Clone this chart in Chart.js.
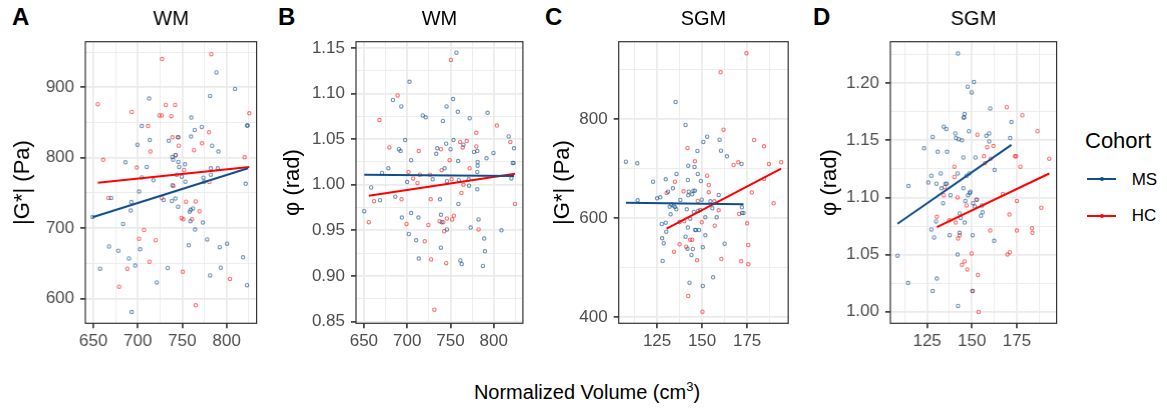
<!DOCTYPE html>
<html>
<head>
<meta charset="utf-8">
<script src="https://cdn.jsdelivr.net/npm/chart.js@4.4.0/dist/chart.umd.min.js"></script>
<style>
body { margin:0; width:1167px; height:410px; background:#fff; position:relative; overflow:hidden;
  font-family:"Liberation Sans", Arial, sans-serif; }
.panel { position:absolute; top:0; }
.txt { position:absolute; line-height:1; white-space:nowrap; color:#000; }
.tag { font-weight:bold; font-size:24px; top:5px; }
.key { position:absolute; height:2px; width:29px; left:1087px; }
.dot { position:absolute; width:4px; height:4px; border-radius:2px; left:1100px; }
</style>
</head>
<body>
<div class="txt tag" style="left:12px">A</div>
<div class="txt tag" style="left:278px">B</div>
<div class="txt tag" style="left:545px">C</div>
<div class="txt tag" style="left:813px">D</div>

<div class="panel" id="pA"><canvas></canvas></div>
<div class="panel" id="pB"><canvas></canvas></div>
<div class="panel" id="pC"><canvas></canvas></div>
<div class="panel" id="pD"><canvas></canvas></div>

<div class="txt" style="left:437px;width:300px;text-align:center;top:382px;font-size:20px">Normalized Volume (cm<sup style="font-size:13px;line-height:0">3</sup>)</div>

<div class="txt" style="left:1085px;top:129.5px;font-size:22px">Cohort</div>
<div class="key" style="top:178.3px;background:#104E8B"></div>
<div class="dot" style="top:177.3px;background:#104E8B"></div>
<div class="txt" style="left:1131.7px;top:171px;font-size:17px">MS</div>
<div class="key" style="top:214.5px;background:#FF0000"></div>
<div class="dot" style="top:213.5px;background:#FF0000"></div>
<div class="txt" style="left:1131.7px;top:207.2px;font-size:17px">HC</div>

<script>
// panel A: |G*| vs WM volume
var wmStiffMS = [[649,716],[657.5,642.5],[667.6,674],[670,743],[678,668],[683.4,706],[686,793.5],[690,657],
  [692.7,737],[692,725],[693,581],[697,647],[699.5,818.6],[701.4,752],[702.6,670],[704.4,845],[704.4,772],
  [710,787],[712.7,884],[713.4,825],[717.5,768],[721.3,623],[729,740],[733.6,643.5],[734.8,824],[738.2,738.6],
  [738.9,761],[738.9,801],[739.7,797],[742.3,742],[742.3,803.5],[743.8,776],[745.3,730.6],[745.6,829],
  [745.6,794],[746.4,787],[749.4,773],[753.1,790.7],[753.5,766],[757.3,675.7],[758.4,723.5],[759.1,710],
  [759.5,726],[759.9,830],[760.2,857],[762.1,728],[764,839.4],[764.4,698],[771.9,843.7],[773.1,708],
  [773.8,771.7],[774.6,766],[778,684],[781.3,887.7],[781.3,633],[782.1,785],[782.1,776],[783.6,817],
  [788.4,921],[789.9,785],[790.7,808.7],[792.1,673],[793.3,644],[800.4,678],[809.4,897.6],[818.4,658.6],
  [821.4,763],[822.9,619],[822.9,845.6],[823.7,845.6]];
var wmStiffHC = [[654.9,876],[661,797],[666.9,743],[693.1,865],[698.7,786],[701.4,685],[707,697.4],[688.2,642.5],
  [678.9,617],[711.5,845],[714.1,808.7],[713,652.5],[720.1,683],[727.2,940],[724.2,860],[726.9,860],[731.4,875],
  [737.7,859],[741.9,875],[738.9,829],[744.9,829],[746,817],[742.6,803.5],[740,760],[726.9,743],[752,782.6],
  [749,714.5],[751.2,712.6],[754.2,737.7],[750.5,638],[763.2,810.6],[765.1,738],[761,712.6],[769.3,724],
  [772.2,820.5],[765.1,590.5],[780.1,836],[780.5,765.6],[803.7,628],[782.7,947],[820.2,800.6],[825.5,863]];
var wmStiffFitMS = [[649,715.5],[824,785]];
var wmStiffFitHC = [[655,764.5],[825.5,787]];

// panel B: phase angle vs WM volume
var wmPhaseMS = [[650.4,0.971],[658.4,0.997],[668.7,0.983],[671,1.013],[678.3,1.018],[683.6,1.093],[686.3,0.987],
  [690.5,1.039],[692.4,1.037],[693.2,1.086],[693.9,0.964],[697.7,1.049],[700,1.003],[701.9,0.946],[702.7,1.113],
  [704.6,1.027],[704.6,0.969],[710.4,0.939],[713,0.964],[713.4,0.919],[718,1.076],[721.4,1.074],[729.5,1.006],
  [733.6,1.034],[734.8,1.040],[737.9,0.984],[739,0.967],[739,0.931],[739.8,0.959],[741.3,1.070],[743.2,1.018],
  [745.1,1.045],[745.5,1.086],[745.9,1.004],[745.9,0.951],[750.1,1.039],[753.1,1.094],[753.5,1.049],[756.9,1.145],
  [758.5,1.080],[758.9,1.026],[759.2,0.979],[759.6,1.005],[761.5,0.917],[763,0.913],[765,1.044],[771.1,1.006],
  [771.5,0.999],[772.2,1.073],[773.4,0.953],[777.2,1.036],[781,1.037],[781,1.014],[781,0.995],[781.4,1.021],
  [781.4,1.025],[782.5,0.962],[787.5,0.911],[789,0.941],[789.8,0.927],[791.7,1.029],[792.9,1.079],[799.7,1.035],
  [808.9,0.950],[817.3,1.053],[820.4,1.007],[821.9,1.024],[823,1.024],[823.4,1.040]];
var wmPhaseHC = [[655.7,0.959],[661.8,0.982],[668,1.071],[679.4,1.041],[689,1.098],[693.5,0.984],[699.3,0.957],
  [701.6,1.014],[706.9,1.007],[711.9,1.002],[713.4,1.037],[714.6,1.011],[720.3,0.938],[724.5,0.956],[726.4,1.011],
  [727.2,0.984],[727.6,0.918],[731.4,0.863],[737.5,0.960],[739,1.039],[739.8,1.016],[741.7,0.959],[742.8,0.949],
  [745.1,0.914],[745.9,0.963],[749,1.027],[750.5,1.137],[751.3,1.006],[752,0.962],[753.9,0.966],[761.2,1.047],
  [762.7,0.991],[764.2,1.041],[765,1.000],[768.8,1.048],[772.2,1.018],[779.9,1.057],[779.9,1.042],[782.5,0.951],
  [803.6,1.065],[819.2,1.047],[824.6,0.979]];
var wmPhaseFitMS = [[650.4,1.011],[823.4,1.0097]];
var wmPhaseFitHC = [[655.7,0.988],[824.6,1.012]];

// panel C: |G*| vs SGM volume
var sgmStiffMS = [[107.7,714.5],[114,711.1],[114.2,636.4],[122.8,674.1],[125,640.4],[126.8,642.4],[127.6,588.5],
  [127.8,559.6],[128.1,513.8],[128.7,549.5],[129.8,678.8],[129.8,591.2],[130.1,573.1],[131.1,653.9],[132,623.6],
  [132.5,608.1],[132.9,627.6],[133.8,660.6],[134.2,625.6],[134.9,622.9],[135.3,835],[135.7,618.2],[135.8,689.6],
  [137.5,592.6],[137.9,637],[140.8,788.6],[140.8,562.9],[141.5,618.2],[141.9,538.7],[142.1,581.2],[142.1,677.4],
  [142.3,646.5],[142.3,706.4],[142.6,653.9],[143,470],[143.4,599.3],[144.1,525.9],[144.5,648.5],[144.9,538],
  [145.2,655.9],[145.4,612.8],[145.8,703.7],[146,655.9],[146.1,576.4],[146.7,576.4],[147.4,736],[147.6,689.6],
  [147.8,614.8],[148.3,576.4],[148.9,616.8],[149.3,675.4],[149.8,637.7],[150.4,463.3],[150.4,541.4],[150.7,754.2],
  [151.8,565.7],[151.8,602],[152.8,765],[154.6,634.3],[155.7,620.2],[156.1,480.8],[158.1,602],[159.2,647.1],
  [159.7,758.9],[160.5,736.7],[162.5,548.8],[163.8,725.3],[171.9,709.8],[172.1,622.2],[172.2,610.8],[173,610.8]];
var sgmStiffHC = [[130.3,651.2],[134.4,532.7],[134.9,674.1],[137.5,547.5],[139.7,654.5],[140.1,593.9],[141.2,542.8],
  [141.9,742.1],[142.3,443.1],[143.4,556.9],[144.5,556.9],[146,715.2],[147.2,515.2],[147.6,635],[149.8,591.9],
  [150.2,411.4],[152.8,686.2],[153.7,667.3],[153.7,652.5],[156.8,634.3],[157,585.2],[159.2,616.2],[160.3,895],
  [160.7,517.8],[161.9,779.1],[167.5,707.7],[170.1,713.1],[170.6,608.8],[171.7,513.1],[174.6,933.3],[175,589.9],
  [175.6,546.1],[175.7,507.1],[177.6,651.9],[178.9,758.2],[184.4,745.5],[184.4,679.5],[187.1,709.8],[189.7,630.3],
  [193.9,713.1]];
var sgmStiffFitMS = [[107.7,631.5],[173,628.3]];
var sgmStiffFitHC = [[130.3,579],[193.9,700.5]];

// panel D: phase angle vs SGM volume
var sgmPhaseMS = [[108.5,1.049],[114.6,1.110],[114.4,1.025],[123.3,1.143],[125.7,1.113],[127.4,1.119],[128.1,1.153],
  [128.1,1.018],[127.4,1.072],[128.9,1.065],[130,1.079],[130.2,1.112],[130.4,1.029],[130.9,1.140],[132.6,1.121],
  [133,1.108],[133.9,1.095],[134.3,1.162],[135.2,1.112],[135.7,1.160],[135.9,1.112],[136.1,1.140],[137.6,1.067],
  [138,1.102],[140.7,1.156],[141.1,1.152],[142,1.121],[142,1.050],[142.2,1.005],[142.2,1.226],[142.6,1.151],
  [143.1,1.086],[143.1,1.069],[143.7,1.082],[144.4,1.150],[145.2,1.135],[145.2,1.108],[145.4,1.170],[145.6,1.170],
  [145.9,1.173],[145.9,1.078],[146.3,1.097],[147,1.119],[147.6,1.197],[147.8,1.102],[148.3,1.158],[148.5,1.121],
  [148.7,1.104],[149.1,1.105],[149.8,1.192],[150.2,1.018],[150.4,1.067],[150.6,1.095],[151.1,1.201],[151.5,1.092],
  [152,1.135],[152.8,1.098],[155,1.084],[155.6,1.093],[155.9,1.087],[158,1.154],[159.6,1.156],[159.6,1.149],
  [160.2,1.178],[162.6,1.124],[162.4,1.062],[171.3,1.152],[172,1.166]];
var sgmPhaseHC = [[130.4,1.083],[134.3,1.102],[134.8,1.109],[137.4,1.080],[140.2,1.127],[140.2,1.118],[140.9,1.078],
  [142,1.100],[142.2,1.064],[143.1,1.067],[144.4,1.041],[145.9,1.044],[147,1.093],[147.4,1.037],[149.8,1.051],
  [150.4,1.018],[152.4,1.098],[153,1.155],[153.3,1.032],[153.7,0.9997],[156.7,1.136],[157.2,1.130],[158.5,1.144],
  [160.4,1.134],[160.2,1.071],[161.9,1.145],[167.2,1.103],[169.4,1.179],[169.8,1.050],[171.1,1.052],[170.9,1.085],
  [173.9,1.136],[174.6,1.136],[175,1.097],[175,1.071],[177,1.127],[178.1,1.172],[183.5,1.073],[183.7,1.069],
  [186.5,1.158],[188.7,1.091],[193.1,1.134]];
var sgmPhaseFitMS = [[108.5,1.077],[172,1.146]];
var sgmPhaseFitHC = [[130.4,1.074],[193.1,1.121]];

// tick labels
var wmVolTicks = [650, 700, 750, 800];
var sgmVolTicks = [125, 150, 175];
var wmStiffTicks = [600, 700, 800, 900];
var wmPhaseTicks = [0.85, 0.90, 0.95, 1.00, 1.05, 1.10, 1.15];
var sgmStiffTicks = [400, 600, 800];
var sgmPhaseTicks = [1.00, 1.05, 1.10, 1.15, 1.20];

var blue = '#104E8B', red = '#FF0000';
var blueA = 'rgba(16,78,139,0.6)', redA = 'rgba(255,0,0,0.55)';

Chart.defaults.font.family = '"Liberation Sans", Arial, sans-serif';

var frame = {
  id: 'frame',
  afterDraw: function(chart) {
    var a = chart.chartArea, c = chart.ctx;
    c.save();
    c.strokeStyle = '#333333';
    c.lineWidth = 1.2;
    c.strokeRect(a.left, a.top, a.right - a.left, a.bottom - a.top);
    c.restore();
  }
};

function gridValues(major, min, max) {
  var step = major[1] - major[0];
  var vals = major.slice();
  for (var m = major[0] - step / 2; m <= max; m += step) {
    if (m >= min) vals.push(+m.toFixed(4));
  }
  return vals.filter(function(v) { return v >= min && v <= max; }).sort(function(a, b) { return a - b; });
}

function isMajor(major, v) {
  return major.some(function(m) { return Math.abs(m - v) < 1e-6; });
}

function axis(min, max, major, digits, fit, pad, title) {
  var vals = gridValues(major, min, max);
  var cfg = {
    type: 'linear', min: min, max: max,
    afterBuildTicks: function(s) { s.ticks = vals.map(function(v) { return { value: v }; }); },
    afterFit: fit,
    border: { display: false },
    grid: {
      color: '#EBEBEB',
      lineWidth: function(ctx) { return isMajor(major, ctx.tick.value) ? 1.8 : 0.9; },
      tickColor: function(ctx) { return isMajor(major, ctx.tick.value) ? '#333333' : 'rgba(0,0,0,0)'; },
      tickLength: 5, tickWidth: 1.6
    },
    ticks: {
      autoSkip: false, maxRotation: 0, color: '#4D4D4D', font: { size: 17 }, padding: pad,
      callback: function(v) { return isMajor(major, v) ? v.toFixed(digits) : ''; }
    }
  };
  if (title) cfg.title = { display: true, text: title, color: '#000', font: { size: 22 }, padding: { top: 10, bottom: 0 } };
  return cfg;
}

function points(data, col) {
  return { data: data.map(function(p) { return { x: p[0], y: p[1] }; }),
    pointRadius: 1.7, borderWidth: 1.1, borderColor: col, backgroundColor: 'rgba(0,0,0,0)', showLine: false };
}
function fitLine(data, col) {
  return { data: data.map(function(p) { return { x: p[0], y: p[1] }; }),
    showLine: true, borderColor: col, borderWidth: 2, pointRadius: 0, fill: false };
}

function makePanel(id, geo, p) {
  var wrap = document.getElementById(id);
  var H = 354, bottom = 323.3;
  wrap.style.left = geo.left + 'px';
  wrap.style.width = (geo.axisW + geo.plotW + 4) + 'px';
  wrap.style.height = H + 'px';
  new Chart(wrap.querySelector('canvas'), {
    type: 'scatter',
    data: { datasets: [
      fitLine(p.fitMS, blue), fitLine(p.fitHC, red),
      points(p.ms, blueA), points(p.hc, redA)
    ] },
    options: {
      responsive: true, maintainAspectRatio: false, animation: false,
      layout: { padding: { left: 0, right: 4, top: 0, bottom: 0 } },
      plugins: {
        legend: { display: false }, tooltip: { enabled: false },
        title: { display: true, text: p.title, fullSize: false, color: '#000',
          font: { size: 20, weight: 'normal' }, padding: { top: 7, bottom: 10.7 } }
      },
      scales: {
        x: axis(p.x[0], p.x[1], p.xTicks, 0, function(s) { s.height = H - bottom; }, 3),
        y: axis(p.y[0], p.y[1], p.yTicks, p.digits, function(s) { s.width = geo.axisW; }, 6, p.yTitle)
      }
    },
    plugins: [frame]
  });
}

makePanel('pA', { left: 0, axisW: 85, plotW: 171.7 }, {
  title: 'WM', yTitle: '|G*| (Pa)', ms: wmStiffMS, hc: wmStiffHC, fitMS: wmStiffFitMS, fitHC: wmStiffFitHC,
  x: [640.9, 833.7], y: [565, 964.7], xTicks: wmVolTicks, yTicks: wmStiffTicks, digits: 0 });
makePanel('pB', { left: 270, axisW: 86, plotW: 168 }, {
  title: 'WM', yTitle: 'φ (rad)', ms: wmPhaseMS, hc: wmPhaseHC, fitMS: wmPhaseFitMS, fitHC: wmPhaseFitHC,
  x: [640.9, 833.7], y: [0.848, 1.157], xTicks: wmVolTicks, yTicks: wmPhaseTicks, digits: 2 });
makePanel('pC', { left: 540, axisW: 78.7, plotW: 170.6 }, {
  title: 'SGM', yTitle: '|G*| (Pa)', ms: sgmStiffMS, hc: sgmStiffHC, fitMS: sgmStiffFitMS, fitHC: sgmStiffFitHC,
  x: [103.7, 197.8], y: [387.9, 956.8], xTicks: sgmVolTicks, yTicks: sgmStiffTicks, digits: 0 });
makePanel('pD', { left: 807, axisW: 83, plotW: 166.7 }, {
  title: 'SGM', yTitle: 'φ (rad)', ms: sgmPhaseMS, hc: sgmPhaseHC, fitMS: sgmPhaseFitMS, fitHC: sgmPhaseFitHC,
  x: [104.5, 197.2], y: [0.9898, 1.2364], xTicks: sgmVolTicks, yTicks: sgmPhaseTicks, digits: 2 });
</script>
</body>
</html>
